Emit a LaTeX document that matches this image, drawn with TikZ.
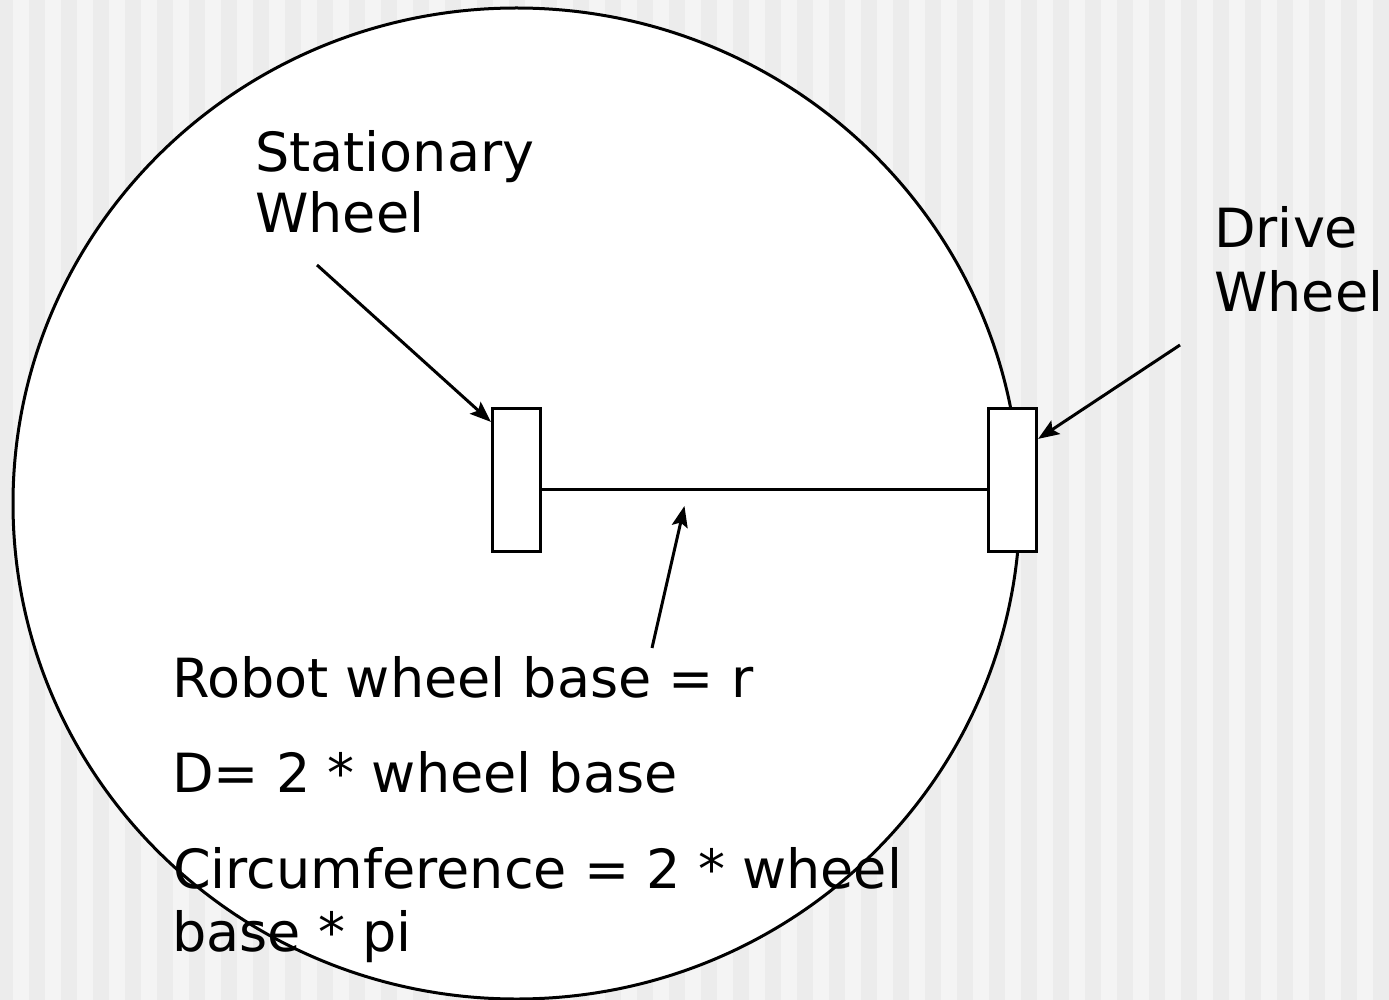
\documentclass[tikz,border=0pt]{standalone}
\usepackage{fontspec}
\setmainfont{DejaVu Sans}
\usetikzlibrary{arrows.meta,calc}
\definecolor{bgdark}{HTML}{ECECEC}
\definecolor{bglight}{HTML}{F4F4F4}
\tikzset{
  lbl/.style={inner sep=0pt, anchor=base west, font=\fontsize{54}{60}\selectfont},
  wheelbox/.style={draw, line width=3.2pt, fill=white, minimum width=48pt, minimum height=143pt, inner sep=0pt},
  arr/.style={line width=3pt, -{Stealth[length=21pt,width=16pt,inset=4pt]}},
  axle/.style={line width=3pt}
}
\begin{document}
\begin{tikzpicture}[x=1pt,y=-1pt]
\useasboundingbox (0,0) rectangle (1389,1000);
\fill[bgdark] (0,0) rectangle (1389,1000);
\foreach \i in {0,...,43} \fill[bglight] ({13+32*\i},0) rectangle ({29+32*\i},1000);
\draw[line width=3pt, fill=white] (516.5,503.5) ellipse [x radius=503.5, y radius=495.5];

\node[wheelbox] (sw) at (516.5,480) {};
\node[wheelbox] (dw) at (1012.5,480) {};
\draw[axle] ($(sw.east)+(0,9)$) -- ($(dw.west)+(0,9)$);

\node[lbl] (st1) at (255,172) {Stationary};
\node[lbl] (st2) at (255,233) {Wheel};
\node[lbl] (dr1) at (1214,248) {Drive};
\node[lbl] (dr2) at (1214,311) {Wheel};
\node[lbl] (t1) at (172,697) {Robot wheel base = r};
\node[lbl] (t2) at (172,792) {D= 2 * wheel base};
\node[lbl] (t3) at (173,888) {Circumference = 2 * wheel};
\node[lbl] (t4) at (172,951) {base * pi};

\coordinate (sa) at (317,265);
\coordinate (da) at (1180,345);
\coordinate (ba) at (652,648);
\draw[arr] (sa) -- ($(sw.north west)+(0,15)$);
\draw[arr] (da) -- ($(dw.north east)+(0,32)$);
\draw[arr] (ba) -- ($($(sw.east)!0.32!(dw.west)$)+(0,26)$);
\end{tikzpicture}
\end{document}
